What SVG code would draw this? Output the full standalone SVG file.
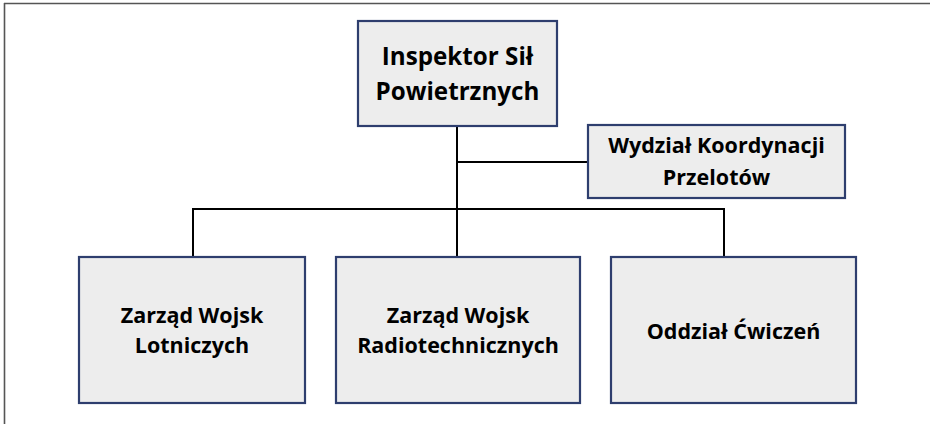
<svg xmlns="http://www.w3.org/2000/svg" width="930" height="424" viewBox="0 0 930 424">
<style>
.box{fill:#EDEDED;stroke:#2E3E6E;stroke-width:2.2}
.t{font-family:"Open Sans","Liberation Sans",sans-serif;font-weight:bold;fill:#000;text-anchor:middle}
.c{stroke:#000;stroke-width:2;fill:none}
</style>
<rect width="930" height="424" fill="#fff"/>
<g id="frame">
<line x1="4" y1="3.5" x2="930" y2="3.5" stroke="#555" stroke-width="1.6"/>
<line x1="4.5" y1="3" x2="4.5" y2="424" stroke="#555" stroke-width="1.6"/>
</g>
<g id="connectors">
<line class="c" x1="457" y1="126" x2="457" y2="257"/>
<line class="c" x1="457" y1="162" x2="588" y2="162"/>
<line class="c" x1="192" y1="209" x2="724" y2="209"/>
<line class="c" x1="193" y1="208" x2="193" y2="257"/>
<line class="c" x1="724" y1="208" x2="724" y2="257"/>
</g>
<g id="inspektor">
<rect class="box" x="358" y="21" width="199" height="105"/>
<text class="t" font-size="24.2" x="457.5" y="65">Inspektor Sił</text>
<text class="t" font-size="24.2" x="457.5" y="100">Powietrznych</text>
</g>
<g id="wydzial">
<rect class="box" x="588" y="125" width="257" height="73"/>
<text class="t" font-size="21.5" x="716.5" y="153">Wydział Koordynacji</text>
<text class="t" font-size="21.5" x="716.5" y="185">Przelotów</text>
</g>
<g id="zwl">
<rect class="box" x="79" y="257" width="226" height="146"/>
<text class="t" font-size="21.5" x="192" y="323">Zarząd Wojsk</text>
<text class="t" font-size="21.5" x="192" y="353">Lotniczych</text>
</g>
<g id="zwr">
<rect class="box" x="336" y="257" width="244" height="146"/>
<text class="t" font-size="21.5" x="458" y="323">Zarząd Wojsk</text>
<text class="t" font-size="21.5" x="458" y="353">Radiotechnicznych</text>
</g>
<g id="oc">
<rect class="box" x="611" y="257" width="245" height="146"/>
<text class="t" font-size="21.5" x="733.5" y="339">Oddział Ćwiczeń</text>
</g>
</svg>
